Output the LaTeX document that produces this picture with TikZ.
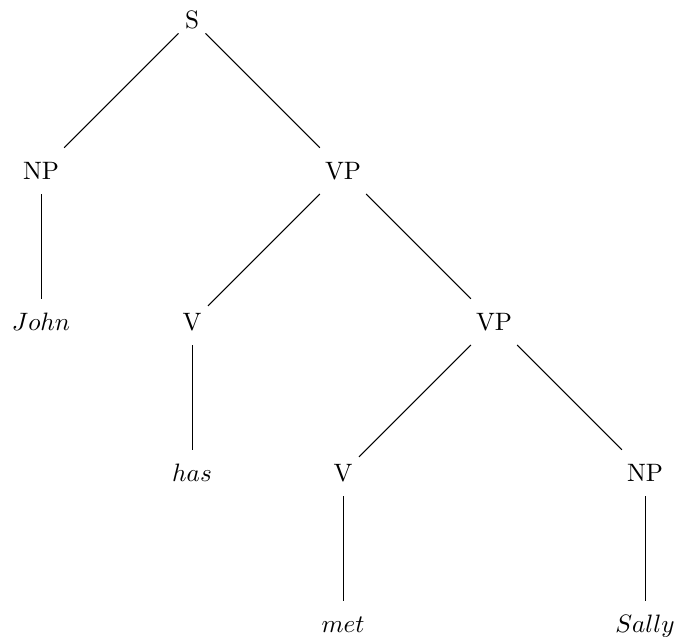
\documentclass[tikz,border=0pt]{standalone}
\begin{document}
\begin{tikzpicture}[
  x=60pt, y=-60pt,
  cat/.style={anchor=base, inner xsep=2.4pt, inner ysep=0pt,
              text height=12.6pt, text depth=5.4pt},
  branch/.style={draw=black, line width=0.4pt}
]
% page frame
\useasboundingbox (-16.3pt,11.5pt) rectangle (251.9pt,-241.6pt);

% categories and words, one row per level
\node[cat] (S)   at (1,0) {S};
\node[cat] (NP1) at (0,1) {NP};
\node[cat] (VP1) at (2,1) {VP};
\node[cat] (V1)  at (1,2) {V};
\node[cat] (VP2) at (3,2) {VP};
\node[cat] (V2)  at (2,3) {V};
\node[cat] (NP2) at (4,3) {NP};

\node[cat] (john)  at (0,2) {$John$};
\node[cat] (has)   at (1,3) {$has$};
\node[cat] (met)   at (2,4) {$met$};
\node[cat] (sally) at (4,4) {$Sally$};

% branches
\draw[branch] (S) -- (NP1);
\draw[branch] (S) -- (VP1);
\draw[branch] (NP1) -- (john);
\draw[branch] (VP1) -- (V1);
\draw[branch] (VP1) -- (VP2);
\draw[branch] (V1) -- (has);
\draw[branch] (VP2) -- (V2);
\draw[branch] (VP2) -- (NP2);
\draw[branch] (V2) -- (met);
\draw[branch] (NP2) -- (sally);
\end{tikzpicture}
\end{document}
